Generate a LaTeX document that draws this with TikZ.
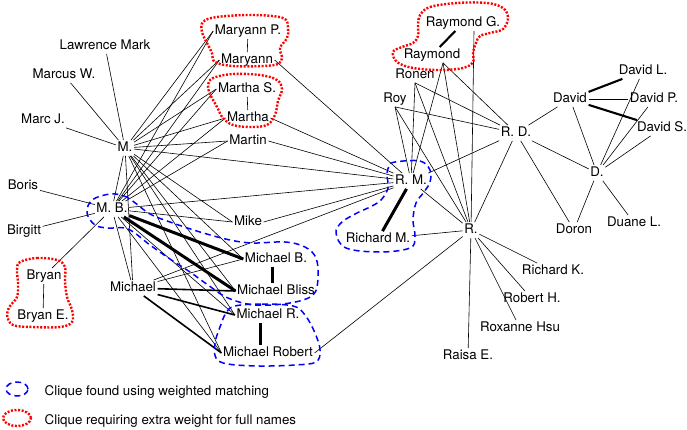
\documentclass[tikz,border=0pt]{standalone}
\usepackage{fontspec}
\setmainfont{TeX Gyre Heros}
\begin{document}
\begin{tikzpicture}[x=1pt,y=-1pt,
  lbl/.style={inner sep=1.5pt, font=\fontsize{13.3}{15}\selectfont, text height=9.6pt, text depth=2.8pt},
  e/.style={line width=0.6pt},
  med/.style={line width=1.6pt},
  mdk/.style={line width=2.1pt},
  thk/.style={line width=3pt},
  bclq/.style={blue, line width=1.5pt, dash pattern=on 6pt off 4pt},
  rclq/.style={red, line width=2.4pt, dash pattern=on 2pt off 1.6pt}]
\useasboundingbox (0,0) rectangle (687,429);
% nodes
\node[lbl] (LM) at (105,46) {Lawrence Mark};
\node[lbl] (MW) at (64,75) {Marcus W.};
\node[lbl] (MJ) at (43,120) {Marc J.};
\node[lbl] (M) at (125,148) {M.};
\node[lbl] (MP) at (248,31) {Maryann P.};
\node[lbl] (MY) at (247,60) {Maryann};
\node[lbl] (MS) at (247,89) {Martha S.};
\node[lbl] (MA) at (248,118) {Martha};
\node[lbl] (MN) at (248,141) {Martin};
\node[lbl] (BO) at (23,186) {Boris};
\node[lbl] (MB) at (112,209) {M. B.};
\node[lbl] (BI) at (24,231) {Birgitt};
\node[lbl] (MK) at (248,222) {Mike};
\node[lbl] (BR) at (44,276) {Bryan};
\node[lbl] (BE) at (43,316) {Bryan E.};
\node[lbl] (MI) at (133,288) {Michael};
\node[lbl] (MIB) at (276,259) {Michael B.};
\node[lbl] (MBL) at (276,291) {Michael Bliss};
\node[lbl] (MIR) at (268,315) {Michael R.};
\node[lbl] (MRO) at (268,353) {Michael Robert};
\node[lbl] (RG) at (463,23) {Raymond G.};
\node[lbl] (RA) at (432,55) {Raymond};
\node[lbl] (RO) at (415,75) {Ronen};
\node[lbl] (RY) at (395,99) {Roy};
\node[lbl] (RD) at (516,133) {R. D.};
\node[lbl] (DA) at (570,99) {David};
\node[lbl] (DL) at (643,71) {David L.};
\node[lbl] (DP) at (654,99) {David P.};
\node[lbl] (DS) at (662,128) {David S.};
\node[lbl] (RM) at (411,181) {R. M.};
\node[lbl] (D) at (597,173) {D.};
\node[lbl] (R) at (471,230) {R.};
\node[lbl] (RMi) at (378,239) {Richard M.};
\node[lbl] (DO) at (574,230) {Doron};
\node[lbl] (DU) at (634,223) {Duane L.};
\node[lbl] (RK) at (553,271) {Richard K.};
\node[lbl] (RH) at (532,299) {Robert H.};
\node[lbl] (RX) at (520,328) {Roxanne Hsu};
\node[lbl] (RE) at (468,356) {Raisa E.};
% thin edges
\draw[e] (LM) -- (M);
\draw[e] (MW) -- (M);
\draw[e] (MJ) -- (M);
\foreach \t in {MP,MY,MS,MA,MN,MK,MIB,MBL,MIR,MRO} {\draw[e] (M) -- (\t.west);}
\foreach \t in {MP,MY,MS,MA,MN,MK,MIR,MRO} {\draw[e] (MB) -- (\t.west);}
\draw[e] (M) -- (RM);
\draw[e] (M) -- (MB);
\draw[e] (M) -- (MI);
\draw[e] (MB) -- (RM);
\draw[e] (MB) -- (MI);
\draw[e] (BO) -- (MB);
\draw[e] (BI) -- (MB);
\draw[e] (BR) -- (MB);
\draw[e] (BR) -- (BE);
\draw[e] (MP) -- (MY);
\draw[e] (MS) -- (MA);
\draw[e] (MY.east) -- (RM);
\draw[e] (MA.east) -- (RM);
\draw[e] (MN.east) -- (RM);
\draw[e] (MK.east) -- (RM);
\draw[e] (MI) -- (RM);
\draw[e] (MI) -- (MIB.west);
\draw[e] (MRO.east) -- (R);
\foreach \t in {RM,R,RD} {\draw[e] (RY.south) -- (\t); \draw[e] (RO.south) -- (\t); \draw[e] ([xshift=11pt]RA.south) -- (\t);}
\draw[e] ([xshift=11pt]RG.south) -- (R);
\draw[e] (RM) -- (RD);
\draw[e] (RM) -- (R);
\draw[e] (RMi) -- (R);
\foreach \t in {RD,RK,RH,RX,RE} {\draw[e] (R) -- (\t);}
\draw[e] (RD) -- (DA);
\draw[e] (RD) -- (D);
\draw[e] (RD) -- (DO);
\draw[e] (DA) -- (DP);
\foreach \t in {DA,DL,DP,DS,DO,DU} {\draw[e] (D) -- (\t);}
% heavier edges
\draw[med] (MI) -- (MBL.west);
\draw[med] (MI) -- (MIR.west);
\draw[med] (MI) -- (MRO.west);
\draw[mdk] (RG) -- (RA);
\draw[mdk] (DA) -- (DL);
\draw[mdk] (DA) -- (DS);
\draw[thk] (MB) -- (MIB.west);
\draw[thk] (MB) -- (MBL.west);
\draw[thk] ([xshift=-4pt]MIB.south) -- ([xshift=-4pt]MBL.north);
\draw[thk] ([xshift=-8pt]MIR.south) -- ([xshift=-8pt]MRO.north);
\draw[thk] (RM) -- (RMi);
% blue cliques
\draw[bclq] plot[smooth cycle, tension=0.6] coordinates {(110,194) (124,196) (134,202) (150,214) (170,222) (200,232) (230,240) (253,243) (285,242) (305,247) (316,258) (318,278) (313,295) (290,303) (255,305) (228,298) (208,285) (190,272) (170,259) (150,245) (128,229) (108,228) (95,225) (87,213) (92,200)};
\draw[bclq] plot[smooth cycle, tension=0.6] coordinates {(235,306) (262,304) (293,306) (305,315) (315,333) (320,350) (316,362) (295,365) (260,366) (228,364) (216,358) (215,343) (220,327) (226,313)};
\draw[bclq] plot[smooth cycle, tension=0.6] coordinates {(395,162) (420,161) (430,170) (430,182) (424,192) (416,203) (413,220) (415,237) (410,248) (380,252) (346,248) (336,233) (342,222) (357,213) (370,207) (381,200) (388,188) (387,175) (389,166)};
% red cliques
\draw[rclq] plot[smooth cycle, tension=0.6] coordinates {(203,22) (217,17) (253,15) (283,18) (288,28) (287,38) (280,48) (282,58) (278,64) (263,66) (233,66) (215,62) (212,53) (207,43) (202,32)};
\draw[rclq] plot[smooth cycle, tension=0.6] coordinates {(213,78) (233,74) (260,75) (277,80) (282,89) (278,101) (275,115) (267,125) (250,127) (233,125) (223,118) (217,107) (210,94) (208,85)};
\draw[rclq] plot[smooth cycle, tension=0.6] coordinates {(20,262) (37,258) (57,260) (65,267) (65,281) (67,297) (72,310) (72,322) (60,327) (33,327) (13,325) (7,315) (10,306) (17,297) (18,283) (17,270)};
\draw[rclq] plot[smooth cycle, tension=0.6] coordinates {(420,15) (430,7) (457,3) (487,3) (503,8) (508,18) (503,29) (490,33) (480,36) (476,43) (473,53) (473,62) (463,68) (440,70) (413,68) (397,62) (393,52) (402,47) (413,43) (418,36) (418,25)};
% legend
\draw[bclq] (17,389) ellipse [x radius=11pt, y radius=7pt];
\draw[rclq] (17,418) ellipse [x radius=14pt, y radius=8pt];
\node[lbl, anchor=west] (L1) at (43,392) {Clique found using weighted matching};
\node[lbl, anchor=west] (L2) at (43,421) {Clique requiring extra weight for full names};
\end{tikzpicture}
\end{document}
